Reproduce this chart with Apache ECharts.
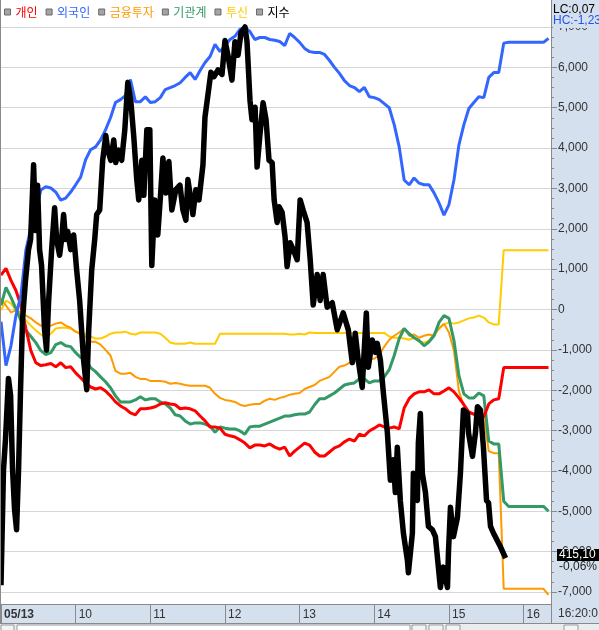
<!DOCTYPE html>
<html><head><meta charset="utf-8">
<script src="https://cdn.jsdelivr.net/npm/echarts@6/dist/echarts.min.js"></script>
<style>html,body{margin:0;padding:0;background:#fff;overflow:hidden}#c{width:599px;height:630px}</style>
</head><body><div id="c"></div>
<script>
// minutes after 09:00
const times = [0,4,8,12,16,20,24,28,32,36,40,44,48,52,56,60,64,68,72,76,80,84,88,92,96,100,104,108,112,116,120,124,128,132,136,140,144,148,152,156,160,164,168,172,176,180,184,188,192,196,200,204,208,212,216,220,224,228,232,236,240,244,248,252,256,260,264,268,272,276,280,284,288,292,296,300,304,308,312,316,320,324,328,332,336,340,344,348,352,356,360,364,368,372,376,380,384,388,392,396,400,404,408,412,416,420,424,428,432,436,440];
const hourLabels = ['05/13','10','11','12','13','14','15','16'];
const legendNames = ['개인','외국인','금융투자','기관계','투신','지수'];

// 개인
const individual = [850,1020,720,470,100,-470,-1020,-1320,-1390,-1370,
-1340,-1420,-1320,-1440,-1420,-1570,-1690,-1820,-1920,-1970,
-1940,-2020,-2140,-2290,-2390,-2460,-2560,-2610,-2460,-2460,
-2440,-2410,-2340,-2310,-2340,-2360,-2460,-2440,-2460,-2510,
-2640,-2760,-2910,-2910,-2940,-3090,-3130,-3160,-3230,-3310,
-3430,-3360,-3360,-3380,-3330,-3410,-3460,-3410,-3630,-3510,
-3410,-3310,-3360,-3530,-3630,-3630,-3530,-3430,-3380,-3280,
-3210,-3260,-3090,-3130,-3010,-2940,-2860,-2910,-2940,-2910,
-2960,-2440,-2210,-2090,-2040,-2040,-1990,-2090,-2090,-2020,
-1940,-2040,-2190,-2360,-2540,-2590,-2640,-2660,-2340,-2240,
-2210,-1440,-1440,-1440,-1440,-1440,-1440,-1440,-1440,-1440,-1440];
// 외국인
const foreign = [-300,-1390,-900,-150,350,1470,2020,2460,2960,3040,
3010,2910,2710,2760,2910,3090,3280,3710,3960,4030,
4200,4450,4750,5130,5200,5300,5700,5150,5150,5270,
5130,5150,5250,5450,5500,5550,5620,5750,5870,5700,
5920,6120,6270,6570,6390,6540,6690,6770,6940,6990,
6890,6690,6740,6740,6690,6670,6640,6540,6840,6740,
6620,6470,6390,6370,6370,6320,6170,6000,5850,5670,
5550,5500,5400,5500,5270,5250,5200,5100,5000,4580,
4030,3210,3090,3260,3130,3090,3090,2890,2640,2340,
2600,3210,4080,4580,4980,5130,5270,5250,5750,5870,
5870,6600,6620,6620,6620,6620,6620,6620,6620,6620,6720];
// 금융투자
const finInvest = [270,100,-70,-20,-70,-150,-220,-320,-400,-400,
-400,-350,-320,-400,-450,-550,-600,-670,-800,-800,
-870,-1000,-1140,-1520,-1590,-1590,-1570,-1670,-1720,-1720,
-1770,-1770,-1770,-1790,-1840,-1820,-1840,-1870,-1890,-1890,
-1890,-1890,-1940,-2090,-2190,-2240,-2260,-2290,-2360,-2390,
-2360,-2340,-2340,-2260,-2210,-2240,-2190,-2160,-2110,-2090,
-2070,-1970,-1920,-1870,-1770,-1720,-1670,-1540,-1420,-1390,
-1320,-1290,-1240,-1220,-1220,-1220,-1120,-920,-750,-650,
-570,-470,-650,-620,-700,-650,-620,-650,-470,-350,
-570,-1020,-2020,-2390,-2560,-2610,-2640,-2660,-3510,-3560,
-3560,-6920,-6920,-6920,-6920,-6920,-6920,-6920,-6920,-6920,-7070];
// 기관계
const institution = [100,550,300,20,-270,-520,-670,-820,-1020,-1120,
-1070,-870,-820,-900,-920,-1070,-1190,-1220,-1440,-1540,
-1670,-1790,-1940,-2140,-2290,-2290,-2290,-2240,-2160,-2240,
-2210,-2210,-2290,-2340,-2440,-2610,-2640,-2760,-2840,-2810,
-2810,-2840,-2890,-3040,-2910,-2940,-2960,-2960,-3010,-3090,
-2910,-2890,-2890,-2840,-2790,-2740,-2690,-2640,-2640,-2610,
-2590,-2590,-2540,-2360,-2210,-2210,-2140,-2070,-1970,-1870,
-1840,-1820,-1720,-1720,-1820,-1770,-1770,-1670,-1490,-1140,
-720,-470,-600,-700,-770,-900,-800,-650,-320,-150,
-220,-770,-1640,-2090,-2190,-2190,-2070,-2140,-3260,-3330,
-3330,-4750,-4880,-4880,-4880,-4880,-4880,-4880,-4880,-4880,-5000];
// 투신
const trust = [-20,220,150,-20,-150,-270,-400,-520,-620,-700,
-600,-470,-450,-450,-470,-550,-600,-600,-670,-720,
-720,-670,-600,-570,-570,-550,-600,-620,-570,-570,
-570,-570,-600,-700,-820,-850,-850,-850,-820,-850,
-850,-850,-850,-850,-600,-600,-600,-600,-600,-600,
-600,-600,-600,-600,-600,-600,-600,-600,-620,-620,
-600,-620,-570,-580,-580,-580,-580,-580,-580,-580,
-580,-580,-580,-580,-580,-580,-580,-580,-670,-700,
-700,-720,-750,-700,-800,-820,-770,-600,-470,-370,
-320,-350,-320,-270,-220,-200,-150,-200,-320,-370,
-370,1470,1470,1470,1470,1470,1470,1470,1470,1470,1470];
// 지수 [minute, index]
const indexPoints = [[0,414.86],[2,415.88],[3.6,416.15],[6,416.69],[7.7,416.54],[9.3,415.88],[10.9,415.53],[12.5,415.35],[14.1,415.88],[15.7,416.59],
[17.3,417.21],[19.7,417.56],[22.1,417.83],[23.8,417.92],[26.2,418.58],[27.8,418.00],[29.4,418.40],[31,417.83],[32.6,417.69],[35,417.12],
[36.6,416.94],[38.3,417.38],[40.7,417.83],[43.1,418.20],[44.7,417.92],[47.1,417.78],[48.7,417.92],[50.3,418.14],[51.9,417.92],[53.6,417.99],
[56,417.83],[58.4,417.96],[60.8,417.65],[63.2,417.38],[66.4,416.85],[68.9,416.59],[70.5,417.12],[72.9,417.65],[75.3,417.92],[76.9,418.14],
[79.3,418.18],[81.7,418.62],[84.2,418.84],[85.8,418.71],[88.2,418.62],[90.6,418.80],[92.2,418.60],[94.6,418.71],[97,418.62],[99.5,418.89],
[101.9,419.31],[104.3,419.15],[106.7,418.83],[109.1,418.45],[110.7,418.27],[113.2,418.62],[114.8,418.31],[117.2,418.89],[119.6,418.89],[121.2,417.69],
[123.6,418.27],[126,417.96],[128.5,418.36],[130.1,418.64],[132.5,418.33],[134.9,418.61],[137.3,418.18],[140.5,418.36],[143.8,418.40],[146.2,418.18],
[148.6,418.09],[150.2,418.45],[152.6,418.27],[154.2,418.14],[156.6,418.36],[159.1,418.27],[162.3,418.58],[163.9,419.00],[166.3,419.20],[168.7,419.40],
[171.1,419.36],[174.4,419.42],[177.6,419.38],[180,419.68],[182.4,419.55],[185.6,419.33],[188,419.67],[190.5,419.55],[192.9,419.75],[196.1,419.80],
[197.7,419.67],[200.1,419.15],[201.7,418.98],[204.2,419.09],[205.8,418.56],[208.2,418.86],[210.6,419.13],[213,418.98],[215.4,418.62],[217.9,418.60],
[219.5,418.27],[221.9,418.07],[223.5,418.21],[225.9,418.16],[228.3,417.94],[229.9,417.68],[232.4,417.89],[234.8,417.83],[238,417.74],[240.4,418.27],
[242.8,418.18],[246,418.07],[248.5,417.74],[250.9,417.34],[254.1,417.61],[256.5,417.38],[258.9,417.61],[262.1,417.32],[266.2,417.36],[270.2,417.12],
[275,417.27],[279.1,417.12],[282.3,416.83],[284.7,417.09],[287.1,416.85],[290.3,416.61],[291.9,416.94],[293.6,417.27],[295.2,416.79],[298.4,417.03],
[300.8,416.92],[302.4,417.00],[304.9,416.85],[307.3,416.56],[310.5,416.21],[312.9,415.79],[315.3,415.97],[316.9,415.68],[318.5,416.08],[320.9,415.61],
[323.4,415.32],[326.6,415.08],[327.4,414.97],[330.6,415.32],[331.4,415.85],[334.6,415.61],[335.4,416.12],[337,416.38],[338.6,415.85],[341.1,415.68],
[343.5,415.38],[346.7,415.35],[349.1,415.29],[351.5,415.02],[353.1,414.84],[355.5,415.02],[358.8,414.84],[359.6,415.15],[361.2,415.55],[363.6,415.29],
[366.8,415.46],[369.2,415.85],[371.6,416.41],[374.9,416.38],[375.7,416.21],[378.9,416.00],[381.3,416.21],[382.9,416.44],[385.3,416.41],[387.7,416.08],
[390.2,415.61],[391.8,415.59],[393.4,415.38],[395.8,415.32],[401.4,415.20],[405.5,415.10]];

const colors = ['#ff0000','#3366ff','#ff9900','#339966','#ffcc00','#000000'];
const strip = '#d5e0ef';
const zip = arr => times.map((t,i)=>[t,arr[i]]);

const chart = echarts.init(document.getElementById('c'), null, {renderer:'canvas'});
const font = '"Liberation Sans", Arial, sans-serif';
const kfont = '"Noto Sans CJK KR", sans-serif';

function lineSeries(name, arr, color, w, z){
  return {name, type:'line', data: zip(arr), showSymbol:false, symbol:'none', z, clip:false,
    lineStyle:{color, width:w}, itemStyle:{color}, emphasis:{disabled:true}, animation:false};
}

chart.setOption({
  animation:false,
  backgroundColor:'#ffffff',
  grid:{left:1, right:48, top:27, bottom:38, containLabel:false},
  legend:{left:-1, top:1, itemWidth:6, itemHeight:6, itemGap:8, selectedMode:false,
    textStyle:{fontSize:12, fontFamily:kfont},
    data: legendNames.map((n,i)=>({name:n, icon:'rect',
      itemStyle:{color:'#a4a4a4', borderColor:'#6a6a6a', borderWidth:1},
      textStyle:{color:colors[i], fontSize:12, fontFamily:kfont}}))},
  xAxis:{type:'value', min:0, max:442, interval:60, offset:12,
    axisLine:{show:true, onZero:false, lineStyle:{color:'#8a8a8a', width:1}},
    axisTick:{show:true, length:19, lineStyle:{color:'#8a8a8a'}},
    splitLine:{show:false},
    axisLabel:{show:true, align:'left', margin:5, padding:[0,0,0,3], color:'#333', fontSize:12, fontFamily:font,
      showMaxLabel:false,
      formatter: v => { const i = Math.round(v/60); if (i===0) return '{b|'+hourLabels[0]+'}'; return hourLabels[i] || ''; },
      rich:{b:{fontWeight:'bold', fontSize:12, color:'#333', fontFamily:font}}}},
  yAxis:[
    {type:'value', position:'right', min:-7000, max:7000, interval:1000,
      axisLine:{show:true, onZero:false, lineStyle:{color:'#8a8a8a'}},
      axisTick:{show:true, length:6, lineStyle:{color:'#8a8a8a'}},
      minorTick:{show:true, splitNumber:4, length:3, lineStyle:{color:'#8a8a8a'}},
      splitLine:{show:true, lineStyle:{color:'#d6d6d6', width:1}},
      axisLabel:{margin:7, color:'#333', fontSize:12, fontFamily:font,
        formatter: v => v.toLocaleString('en-US')}},
    {type:'value', min:414.8, max:419.8, show:false, splitLine:{show:false}}
  ],
  series:[
    lineSeries('투신', trust, colors[4], 2, 2),
    lineSeries('금융투자', finInvest, colors[2], 2, 3),
    lineSeries('기관계', institution, colors[3], 3, 4),
    lineSeries('개인', individual, colors[0], 3, 5),
    lineSeries('외국인', foreign, colors[1], 3, 6),
    {name:'지수', type:'line', yAxisIndex:1, data:indexPoints, showSymbol:false, symbol:'none', z:7, clip:false,
      lineStyle:{color:'#000', width:5.5, join:'round'}, itemStyle:{color:'#000'}, emphasis:{disabled:true}}
  ],
  graphic:[
    {type:'rect', z:-5, shape:{x:551, y:0, width:48, height:624}, style:{fill:strip}},
    {type:'rect', z:-5, shape:{x:0, y:604, width:599, height:20}, style:{fill:strip}},
    {type:'rect', z:-5, shape:{x:0, y:624, width:599, height:6}, style:{fill:'#ececec'}},
    {type:'rect', z:-4, shape:{x:17, y:625, width:393, height:6}, style:{fill:'#ffffff', stroke:'#9a9a9a', lineWidth:1}},
    {type:'rect', z:-4, shape:{x:1, y:625, width:13, height:6}, style:{fill:'#f4f4f4', stroke:'#9a9a9a', lineWidth:1}},
    {type:'rect', z:-4, shape:{x:412, y:625, width:14, height:6}, style:{fill:'#f4f4f4', stroke:'#9a9a9a', lineWidth:1}},
    {type:'rect', z:-4, shape:{x:429, y:625, width:14, height:6}, style:{fill:'#f4f4f4', stroke:'#9a9a9a', lineWidth:1}},
    {type:'rect', z:-4, shape:{x:446, y:625, width:14, height:6}, style:{fill:'#f4f4f4', stroke:'#9a9a9a', lineWidth:1}},
    {type:'rect', z:-4, shape:{x:564, y:625, width:14, height:6}, style:{fill:'#f4f4f4', stroke:'#9a9a9a', lineWidth:1}},
    {type:'line', z:10, shape:{x1:0.5, y1:0, x2:0.5, y2:624}, style:{stroke:'#8a8a8a', lineWidth:1}},
    {type:'line', z:10, shape:{x1:551.5, y1:0, x2:551.5, y2:624}, style:{stroke:'#8a8a8a', lineWidth:1}},
    {type:'line', z:10, shape:{x1:0, y1:623.5, x2:599, y2:623.5}, style:{stroke:'#8a8a8a', lineWidth:1}},
    {type:'text', z:20, left:553, top:4, style:{text:'LC:0,07', fill:'#000', font:'12px '+font}},
    {type:'text', z:20, left:553, top:15, style:{text:'HC:-1,23', fill:'#2255ee', font:'12px '+font, backgroundColor:strip, padding:[0,4,1,0]}},
    {type:'text', z:20, left:557, top:549, style:{text:'415,10', fill:'#fff', font:'12px '+font, backgroundColor:'#000', padding:[0,6,0,2]}},
    {type:'text', z:20, left:558, top:561, style:{text:'-0,06%', fill:'#222', font:'12px '+font, backgroundColor:strip, padding:[0,4,0,1]}},
    {type:'text', z:20, left:558, top:608, style:{text:'16:20:0', fill:'#333', font:'12px '+font}}
  ]
});
</script></body></html>
